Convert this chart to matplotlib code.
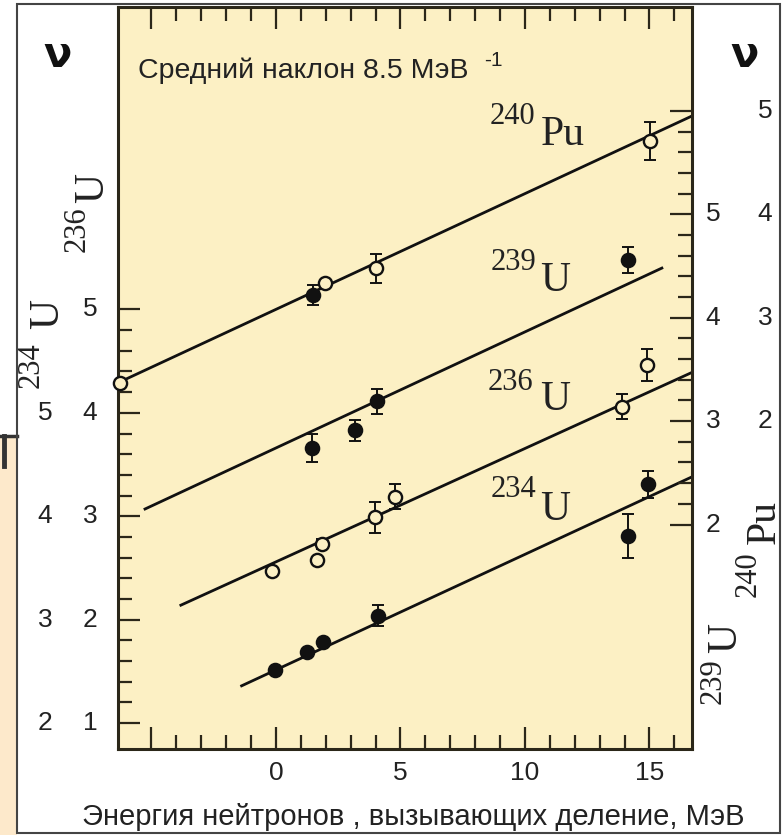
import numpy as np
import matplotlib.pyplot as plt
from matplotlib.patches import Rectangle
from matplotlib.lines import Line2D
from matplotlib.ticker import FixedLocator
import matplotlib.transforms as mtransforms

W, H = 784, 835

# энергия нейтронов (МэВ) и ν в единицах левой внутренней шкалы
pu240_e = [-6.27, 1.49, 1.97, 4.02, 15.02]
pu240_nu = [4.29, 5.14, 5.26, 5.40, 6.63]
pu240_err = [0.0, 0.10, 0.0, 0.14, 0.18]
pu240_fill = [False, True, False, False, False]

u239_e = [1.45, 3.17, 4.06, 14.14]
u239_nu = [3.66, 3.83, 4.11, 5.48]
u239_err = [0.135, 0.10, 0.12, 0.125]
u239_fill = [True, True, True, True]

u236_e = [-0.16, 1.65, 1.85, 3.98, 4.78, 13.90, 14.90]
u236_nu = [2.47, 2.58, 2.73, 2.99, 3.19, 4.06, 4.46]
u236_err = [0.0, 0.0, 0.05, 0.15, 0.12, 0.12, 0.155]
u236_fill = [False] * 7

u234_e = [-0.04, 1.24, 1.89, 4.10, 14.14, 14.94]
u234_nu = [1.51, 1.69, 1.78, 2.04, 2.81, 3.31]
u234_err = [0.0, 0.0, 0.0, 0.10, 0.21, 0.13]
u234_fill = [True] * 6

# прямые со средним наклоном: концы отрезков (E, ν)
fit_e = {"pu240": [-6.35, 16.7], "u239": [-5.26, 15.5],
         "u236": [-3.82, 16.7], "u234": [-1.38, 16.7]}
fit_nu = {"pu240": [4.29, 6.87], "u239": [3.07, 5.40],
          "u236": [2.14, 4.39], "u234": [1.36, 3.38]}

x_major = [-5, 0, 5, 10, 15]
x_labels = ["", "0", "5", "10", "15"]
left_major = [1, 2, 3, 4, 5]
right_shift = 0.92          # сдвиг правой шкалы относительно левой
right_major = [2, 3, 4, 5, 6]

bg = "#fcf0c4"
ink = "#2b2719"

fig = plt.figure(figsize=(W / 100, H / 100), dpi=100)
fig.patch.set_facecolor("white")


def fx(xp):
    return xp / W


def fy(yp):
    return 1 - yp / H


def ftext(xp, yp, s, **kw):
    fig.text(fx(xp), fy(yp), s, **kw)


# полоска соседнего рисунка слева и рамка
fig.add_artist(Rectangle((0, 0), fx(17), fy(435), transform=fig.transFigure,
                         facecolor="#fde9cb", edgecolor="none", zorder=0))
fig.add_artist(Line2D([0, fx(17)], [fy(436), fy(436)], transform=fig.transFigure,
                      color="#333333", lw=2.5))
fig.add_artist(Line2D([fx(4), fx(4)], [fy(436), fy(466)], transform=fig.transFigure,
                      color="#333333", lw=3.5))
fig.add_artist(Rectangle((fx(17), fy(833)), fx(780) - fx(17), fy(4) - fy(833),
                         transform=fig.transFigure, facecolor="none",
                         edgecolor="#444444", lw=1.5, zorder=5))

ax = fig.add_axes([fx(118), fy(749), fx(692) - fx(118), fy(7) - fy(749)])
ax.set_facecolor(bg)
ax.set_xlim(-6.345, 16.71)
ax.set_ylim(0.749, 7.925)

for sp in ax.spines.values():
    sp.set_color(ink)
    sp.set_linewidth(2.2)

ax.xaxis.set_major_locator(FixedLocator(x_major))
ax.xaxis.set_minor_locator(FixedLocator(list(range(-4, 17))))
ax.set_xticklabels(x_labels)
ax.yaxis.set_major_locator(FixedLocator(left_major))
ax.yaxis.set_minor_locator(FixedLocator(np.arange(1.2, 5.0, 0.2)))
ax.set_yticklabels([])
ax.tick_params(which="both", direction="in", color=ink, top=True, width=1.6)
ax.tick_params(which="major", length=16)
ax.tick_params(which="minor", length=10)
ax.tick_params(axis="x", labelsize=19, pad=9, labelcolor="#222222")
for t in ax.get_xticklabels():
    t.set_family("Liberation Sans")

axr = ax.twinx()
axr.set_ylim(0.749 - right_shift, 7.925 - right_shift)
axr.yaxis.set_major_locator(FixedLocator(right_major))
axr.yaxis.set_minor_locator(FixedLocator(np.arange(2.2, 6.0, 0.2)))
axr.set_yticklabels([])
axr.tick_params(which="both", direction="in", color=ink, width=1.6)
axr.tick_params(which="major", length=16)
axr.tick_params(which="minor", length=10)
for sp in axr.spines.values():
    sp.set_visible(False)

# подписи шкал ν: по две колонки с каждой стороны
tl = mtransforms.blended_transform_factory(ax.transAxes, ax.transData)
tr = mtransforms.blended_transform_factory(axr.transAxes, axr.transData)
lab_kw = dict(ha="center", va="center", fontsize=19, family="Liberation Sans",
              color="#222222")
for v in left_major:
    ax.text(-0.0488, v, str(v), transform=tl, **lab_kw)
    if v < 5:
        ax.text(-0.1272, v, str(v + 1), transform=tl, **lab_kw)
for r in right_major:
    if r < 6:
        axr.text(1.0366, r, str(r), transform=tr, **lab_kw)
    if r > 2:
        axr.text(1.127, r, str(r - 1), transform=tr, **lab_kw)

# аппроксимирующие прямые
for key in fit_e:
    ax.plot(fit_e[key], fit_nu[key], color="#111111", lw=2.0, zorder=2)

# экспериментальные точки
series = [(pu240_e, pu240_nu, pu240_err, pu240_fill),
          (u239_e, u239_nu, u239_err, u239_fill),
          (u236_e, u236_nu, u236_err, u236_fill),
          (u234_e, u234_nu, u234_err, u234_fill)]
for e, nu, err, fill in series:
    ax.errorbar(e, nu, yerr=err, fmt="none", ecolor="#111111", elinewidth=1.4,
                capsize=4, capthick=1.4, zorder=3, clip_on=False)
    for xi, yi, f in zip(e, nu, fill):
        ax.plot(xi, yi, "o", ms=9.5, mew=1.7, mec="#111111",
                mfc="#111111" if f else bg, zorder=4, clip_on=False)

# подписи изотопов у прямых
serif = "Liberation Serif"
for (nx, ny), (lx, ly), num, sym in [((512, 117), (563, 135), "240", "Pu"),
                                     ((513, 262), (555, 281), "239", "U"),
                                     ((510, 382), (555, 400), "236", "U"),
                                     ((513, 490), (555, 510), "234", "U")]:
    ftext(nx, ny, num, ha="center", va="center", fontsize=22, family=serif,
          color="#222222")
    ftext(lx, ly, sym, ha="center", va="center", fontsize=30, family=serif,
          color="#222222")

# повёрнутые подписи шкал
for (nx, ny), (lx, ly), num, sym in [((77, 229), (93, 188), "236", "U"),
                                     ((31, 365), (48, 314), "234", "U"),
                                     ((748, 574), (765, 522), "240", "Pu"),
                                     ((713, 681), (726, 638), "239", "U")]:
    ftext(nx, ny, num, ha="center", va="center", fontsize=22, family=serif,
          rotation=90, color="#222222")
    ftext(lx, ly, sym, ha="center", va="center", fontsize=30, family=serif,
          rotation=90, color="#222222")

ftext(58, 55, "ν", ha="center", va="center", fontsize=30, family="DejaVu Sans",
      weight="bold", color="#111111")
ftext(745, 55, "ν", ha="center", va="center", fontsize=30, family="DejaVu Sans",
      weight="bold", color="#111111")

ftext(138, 71, "Средний наклон 8.5 МэВ", ha="left", va="center", fontsize=20.5,
      family="Liberation Sans", color="#222222")
ftext(484, 60, "-1", ha="left", va="center", fontsize=15,
      family="Liberation Sans", color="#222222")

ftext(413, 817, "Энергия нейтронов , вызывающих деление, МэВ", ha="center",
      va="center", fontsize=21, family="Liberation Sans", color="#222222")

fig.savefig("out.png", dpi=100, facecolor=fig.get_facecolor())
